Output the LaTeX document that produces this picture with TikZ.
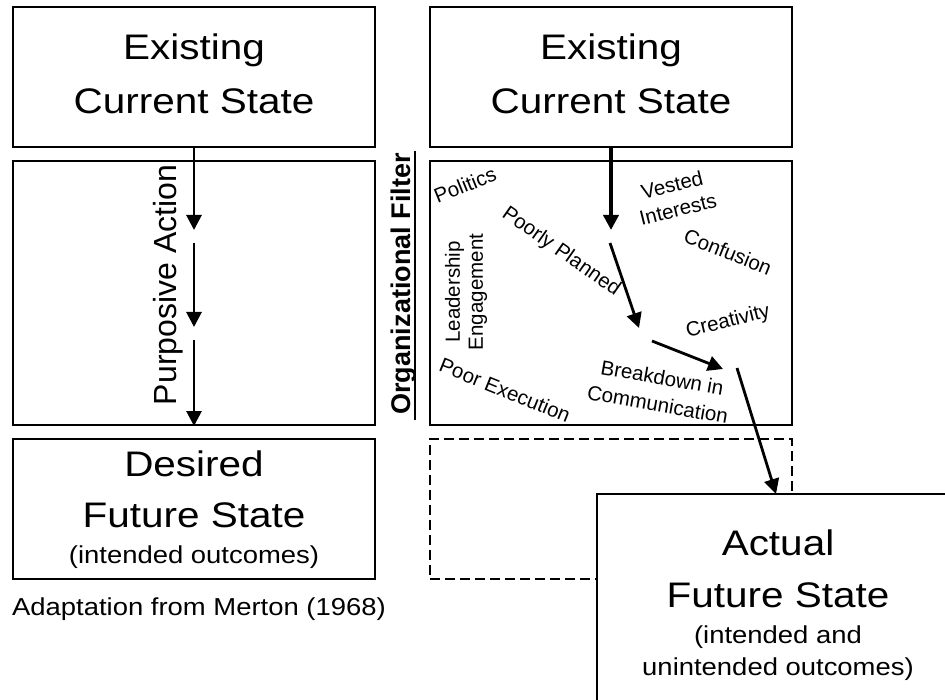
\documentclass[tikz,border=0pt]{standalone}
\usepackage{fontspec}
\setmainfont{Liberation Sans}
\usetikzlibrary{arrows.meta}
\begin{document}
\begin{tikzpicture}[x=1pt,y=-1pt,
  box/.style={draw, line width=2pt, minimum width=362pt, minimum height=140pt, inner sep=0pt, fill=white},
  tallbox/.style={box, minimum height=264pt},
  ghostbox/.style={box, dashed, dash pattern=on 10pt off 5pt, fill=none},
  big/.style={font=\fontsize{35.5}{40}\selectfont, xscale=1.14, transform shape, anchor=base, inner sep=0pt},
  small/.style={font=\fontsize{24.5}{28}\selectfont, xscale=1.12, transform shape, anchor=base, inner sep=0pt},
  word/.style={font=\fontsize{20.5}{25}\selectfont, align=center, inner sep=0pt},
  flow/.style={line width=2.8pt, -{Triangle[length=15pt,width=15pt]}},
]
\useasboundingbox (0,0) rectangle (945,700);
\clip (0,0) rectangle (945,700);

% ---- left column: intended change ----
\node[box] (lcur) at (194,77) {};
\node[tallbox] (lmid) at (194,293) {};
\node[box] (ldes) at (194,508.5) {};

\node[big] (lcur1) at (194,60) {Existing};
\node[big] (lcur2) at (194,114) {Current State};
\node[big] (ldes1) at (194,476) {Desired};
\node[big] (ldes2) at (194,527) {Future State};
\node[small] (ldes3) at (194,563) {(intended outcomes)};
\node[small] (src) at (199,615) {Adaptation from Merton (1968)};

\node[font=\fontsize{32}{36}\selectfont, rotate=90, anchor=base, inner sep=0pt] (purp) at (176,285) {Purposive Action};

\coordinate (l1e) at (194,230);
\coordinate (l2s) at (194,243);
\coordinate (l2e) at (194,327);
\coordinate (l3s) at (194,340);
\draw[flow] (lcur.south) -- (l1e);
\draw[flow] (l2s) -- (l2e);
\draw[flow] (l3s) -- (lmid.south);

% ---- filter label ----
\node[font=\bfseries\fontsize{27}{30}\selectfont, rotate=90, anchor=base, inner sep=0pt] (filt) at (410,284) {Organizational Filter};
\draw[line width=2.6pt] (415,151) -- (415,420);

% ---- right column: actual change ----
\node[box] (rcur) at (611,77) {};
\node[tallbox] (rmid) at (611,293) {};
\node[ghostbox] (rdes) at (611,508.5) {};

\node[big] (rcur1) at (611,60) {Existing};
\node[big] (rcur2) at (611,114) {Current State};

\node[word, rotate=22] (w1) at (465,185) {Politics};
\node[word, rotate=14] (w2) at (675,197) {Vested\\Interests};
\node[word, rotate=-35] (w3) at (561,252) {Poorly Planned};
\node[word, rotate=-22] (w4) at (728,252) {Confusion};
\node[word, rotate=90, font=\fontsize{20.5}{23}\selectfont] (w5) at (466,292) {Leadership\\Engagement};
\node[word, rotate=14] (w6) at (728,322) {Creativity};
\node[word, rotate=-22] (w7) at (505,390) {Poor Execution};
\node[word, rotate=-10, font=\fontsize{20.5}{27}\selectfont] (w8) at (660,391) {Breakdown in\\Communication};

\coordinate (r1e) at (611,230);
\coordinate (r2s) at (610,243);
\coordinate (r2e) at (639,328);
\coordinate (r3s) at (652,341);
\coordinate (r3e) at (723,369);
\coordinate (r4s) at (737,368);
\coordinate (r4e) at (776,494);
\draw[flow, line width=4pt] (rcur.south) -- (r1e);
\draw[flow] (r2s) -- (r2e);
\draw[flow] (r3s) -- (r3e);

\node[box, minimum height=224pt] (act) at (778,606) {};
\node[big] (act1) at (778,555) {Actual};
\node[big] (act2) at (778,607) {Future State};
\node[small] (act3) at (778,643) {(intended and};
\node[small] (act4) at (778,675) {unintended outcomes)};

\draw[flow] (r4s) -- (r4e);
\end{tikzpicture}
\end{document}
